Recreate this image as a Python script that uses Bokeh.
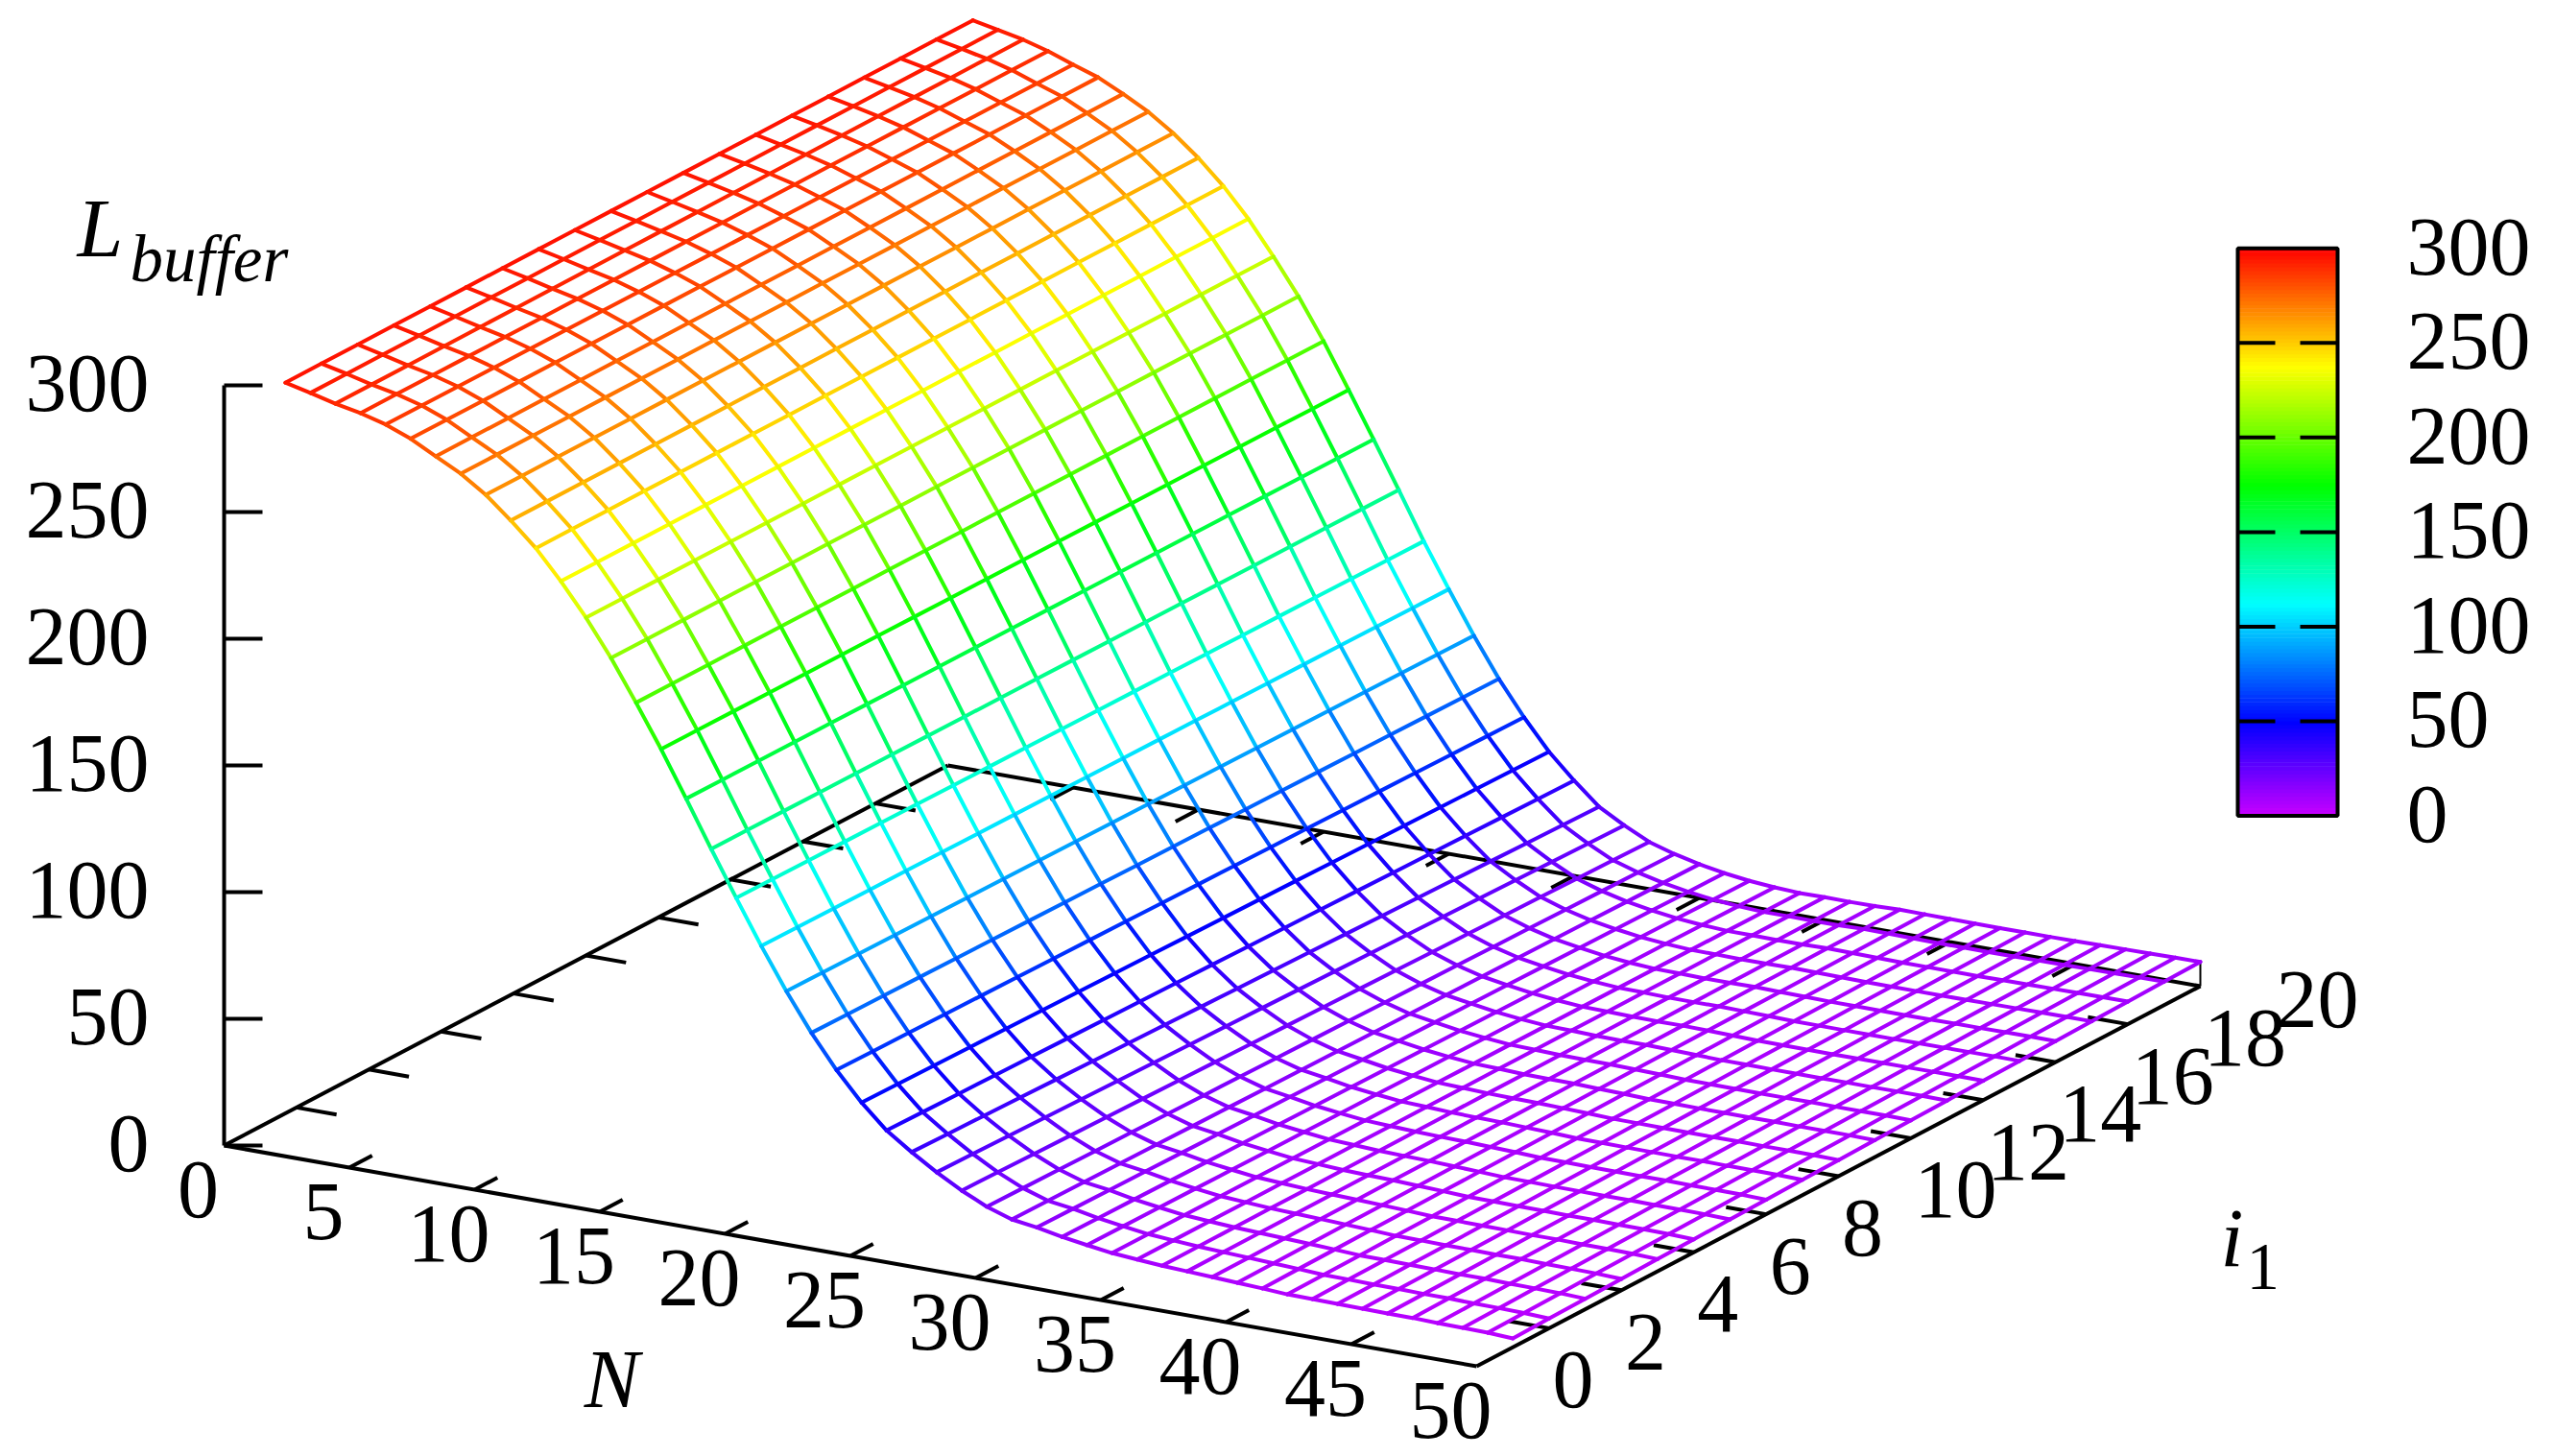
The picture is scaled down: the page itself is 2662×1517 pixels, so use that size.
import colorsys
from bokeh.core.properties import value
from bokeh.embed import file_html
from bokeh.models import Range1d
from bokeh.plotting import figure
from bokeh.resources import INLINE

# ---- data -----------------------------------------------------------------
N_values = list(range(1, 51))
i_values = list(range(1, 21))

# L_buffer along the front edge of the mesh (i1 = 1), N = 1..50
L_at_i_first = [
    295.3, 293.0, 290.5, 288.5, 285.8, 281.9, 276.7, 271.6, 265.0, 256.6,
    247.4, 236.1, 223.5, 209.3, 193.4, 176.8, 159.0, 140.9, 123.3, 106.1,
    90.0, 75.3, 62.4, 51.3, 42.0, 35.2, 29.0, 23.5, 18.9, 15.6,
    14.2, 12.2, 10.7, 9.3, 8.5, 7.8, 7.3, 6.8, 6.3, 5.8,
    5.2, 5.1, 4.9, 4.8, 4.6, 4.6, 4.3, 4.2, 4.0, 3.5,
]
# L_buffer along the back edge of the mesh (i1 = 20), N = 1..50
L_at_i_last = [
    295.8, 293.8, 291.7, 288.9, 285.3, 282.0, 277.2, 271.9, 265.2, 257.2,
    247.8, 236.6, 223.5, 209.5, 193.6, 176.1, 158.3, 140.1, 121.6, 104.4,
    87.8, 72.5, 59.1, 47.2, 37.6, 29.0, 23.4, 18.6, 15.6, 13.3,
    11.5, 10.2, 9.4, 8.9, 9.0, 8.9, 9.0, 9.3, 9.2, 9.1,
    9.0, 9.0, 9.0, 9.0, 9.1, 9.2, 9.3, 9.4, 9.5, 9.6,
]

N_ticks = [0, 5, 10, 15, 20, 25, 30, 35, 40, 45, 50]
i_ticks = [0, 2, 4, 6, 8, 10, 12, 14, 16, 18, 20]
L_ticks = [0, 50, 100, 150, 200, 250, 300]
N_labels = [str(t) for t in N_ticks]
i_labels = [str(t) for t in i_ticks]
L_labels = [str(t) for t in L_ticks]

N_MAX, I_MAX, L_MAX = 50, 20, 300

# ---- view ------------------------------------------------------------------
W, H = 2646, 1517
FONT = value("Liberation Serif")
TICK_PX = 86
SUB_PX = 69
BASE_SHIFT = 0.355     # em: how far Bokeh's alphabetic anchor sits below the given y
DIGIT_HALF = 29
AXIS_W = 4.0
MESH_W = 4.0


def project(n, i, z=0.0):
    """Same oblique view as the reference, in page pixels."""
    return 233 + 26.1 * n + 37.7 * i, 1193 + 4.6 * n - 19.8 * i - 2.64 * z


def palette(z):
    hue = 287.0 * (1 - min(max(z, 0), L_MAX) / L_MAX)
    r, g, b = colorsys.hsv_to_rgb(hue / 360.0, 1.0, 1.0)
    return "#%02x%02x%02x" % (round(r * 255), round(g * 255), round(b * 255))


p = figure(
    width=W, height=H, output_backend="svg", toolbar_location=None,
    x_range=Range1d(0, W), y_range=Range1d(H, 0),
    x_axis_type=None, y_axis_type=None, min_border=0,
    outline_line_color=None, background_fill_color="white",
)
p.grid.visible = False


def black(xs0, ys0, xs1, ys1, width=AXIS_W):
    p.segment(xs0, ys0, xs1, ys1, line_color="black", line_width=width)


def label(xs, ys, texts, size=TICK_PX, align="center", style="normal"):
    p.text(xs, [y - BASE_SHIFT * size for y in ys], text=texts, text_font=FONT,
           text_font_size=f"{size}px", text_font_style=style, text_align=align,
           text_baseline="alphabetic", text_color="black")


# ---- box: base frame and vertical axis --------------------------------------
corners = [(0, 0), (N_MAX, 0), (N_MAX, I_MAX), (0, I_MAX), (0, 0)]
for (a, b), (c, d) in zip(corners[:-1], corners[1:]):
    x0, y0 = project(a, b)
    x1, y1 = project(c, d)
    black([x0], [y0], [x1], [y1])

x0, y0 = project(0, 0)
x1, y1 = project(0, 0, L_MAX)
black([x0], [y0], [x1], [y1])

# ticks on all four base edges and on the vertical axis
TN = 0.63      # N tick length, in i units
TI = 1.6       # i tick length, in N units
for t in N_ticks[1:-1]:
    x0, y0 = project(t, 0)
    x1, y1 = project(t, TN)
    black([x0], [y0], [x1], [y1])
    x0, y0 = project(t, I_MAX)
    x1, y1 = project(t, I_MAX - TN)
    black([x0], [y0], [x1], [y1])
for t in i_ticks[1:-1]:
    x0, y0 = project(0, t)
    x1, y1 = project(TI, t)
    black([x0], [y0], [x1], [y1])
    x0, y0 = project(N_MAX, t)
    x1, y1 = project(N_MAX - TI, t)
    black([x0], [y0], [x1], [y1])
for t in L_ticks:
    x0, y0 = project(0, 0, t)
    black([x0], [y0], [x0 + 40], [y0])

# short riser under the right corner of the mesh
x0, y0 = project(N_MAX, I_MAX)
x1, y1 = project(N_MAX, I_MAX, L_at_i_last[-1])
black([x0], [y0], [x1], [y1], width=2.0)


# ---- mesh ------------------------------------------------------------------
def height(n_idx, i_val):
    frac = (i_val - i_values[0]) / (i_values[-1] - i_values[0])
    return L_at_i_first[n_idx] * (1 - frac) + L_at_i_last[n_idx] * frac


sx0, sy0, sx1, sy1, scol = [], [], [], [], []


def add_segment(n_idx_a, i_a, n_idx_b, i_b):
    za, zb = height(n_idx_a, i_a), height(n_idx_b, i_b)
    xa, ya = project(N_values[n_idx_a], i_a, za)
    xb, yb = project(N_values[n_idx_b], i_b, zb)
    sx0.append(xa); sy0.append(ya); sx1.append(xb); sy1.append(yb)
    scol.append(palette((za + zb) / 2))


for k in range(len(N_values)):
    for i_a, i_b in zip(i_values[:-1], i_values[1:]):
        add_segment(k, i_a, k, i_b)
for i_v in i_values:
    for k in range(len(N_values) - 1):
        add_segment(k, i_v, k + 1, i_v)

p.segment(sx0, sy0, sx1, sy1, line_color=scol, line_width=MESH_W, line_cap="round")

# ---- tick labels -----------------------------------------------------------
xs, ys = [], []
for t in N_ticks:
    x, y = project(t, 0)
    xs.append(x - 27)
    ys.append(y + 48 + DIGIT_HALF)
label(xs, ys, N_labels)

xs, ys = [], []
for t in i_ticks:
    x, y = project(N_MAX, t)
    xs.append(x + 79)
    ys.append(y + 16 + DIGIT_HALF)
label(xs, ys, i_labels, align="left")

xs, ys = [], []
for t in L_ticks:
    x, y = project(0, 0, t)
    xs.append(x - 78)
    ys.append(y + DIGIT_HALF)
label(xs, ys, L_labels, align="right")

# ---- axis titles -----------------------------------------------------------
label([80], [268], ["L"], align="left", style="italic")
label([135], [294], ["buffer"], size=SUB_PX, align="left", style="italic")
label([637], [1467], ["N"], style="italic")
label([2313], [1320], ["i"], align="left", style="italic")
label([2340], [1344], ["1"], size=SUB_PX, align="left")

# ---- colour box ------------------------------------------------------------
CB_L, CB_R, CB_TOP, CB_BOT = 2331, 2435, 258.3, 849.5


def cb_y(z):
    return CB_BOT + (CB_TOP - CB_BOT) * z / L_MAX


levels = list(range(0, L_MAX, 2))
p.quad(left=[CB_L] * len(levels), right=[CB_R] * len(levels),
       top=[cb_y(z + 2) - 0.6 for z in levels], bottom=[cb_y(z) for z in levels],
       fill_color=[palette(z + 1) for z in levels], line_color=None)
p.quad(left=[CB_L], right=[CB_R], top=[CB_TOP], bottom=[CB_BOT],
       fill_color=None, line_color="black", line_width=4)
for t in L_ticks[1:-1]:
    y = cb_y(t)
    black([CB_L], [y], [CB_L + 39], [y])
    black([CB_R - 39], [y], [CB_R], [y])
label([2507] * len(L_ticks), [cb_y(t) + DIGIT_HALF for t in L_ticks], L_labels, align="left")

open("out.html", "w").write(file_html(p, INLINE))
